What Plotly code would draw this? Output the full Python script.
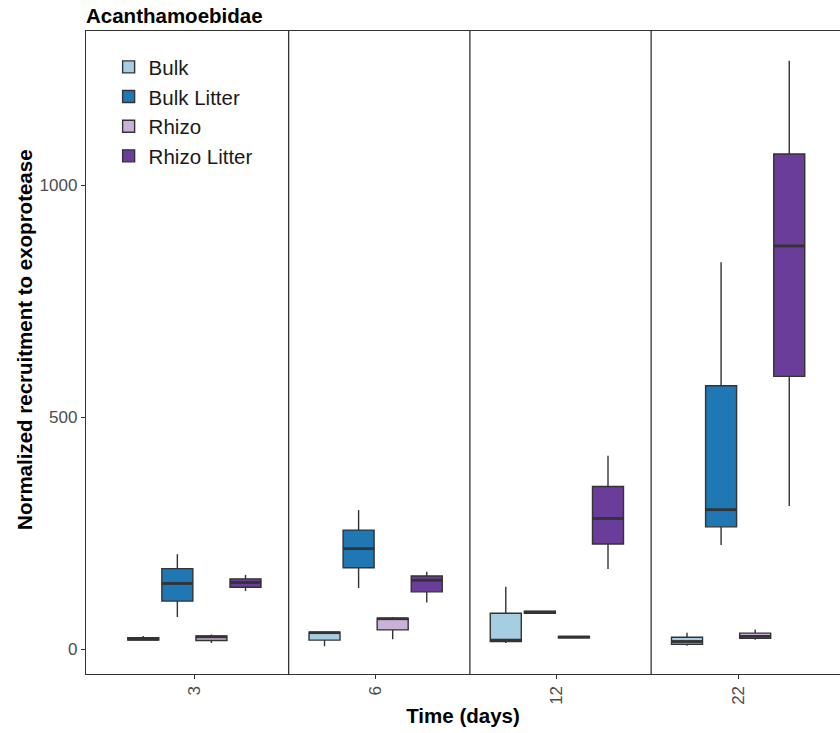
import plotly.graph_objects as go

times = ["3", "6", "12", "22"]
groups = ["Bulk", "Bulk Litter", "Rhizo", "Rhizo Litter"]
colors = ["#a6cee3", "#1f78b4", "#cab2d6", "#6a3d9a"]

# five-number summaries per group, one value per time point
lower = {
    "Bulk":         [19, 7, 14, 8],
    "Bulk Litter":  [70, 132, 77, 225],
    "Rhizo":        [14, 22, 24, 21],
    "Rhizo Litter": [126, 101, 173, 309],
}
q1 = {
    "Bulk":         [20, 20, 17, 11],
    "Bulk Litter":  [104, 176, 78, 264],
    "Rhizo":        [19, 42, 25, 24],
    "Rhizo Litter": [134, 124, 227, 588],
}
med = {
    "Bulk":         [22, 36, 20, 17],
    "Bulk Litter":  [142, 217, 80, 301],
    "Rhizo":        [27, 66, 26.5, 28],
    "Rhizo Litter": [144, 149, 282, 869],
}
q3 = {
    "Bulk":         [25, 37, 78, 26],
    "Bulk Litter":  [174, 257, 82, 568],
    "Rhizo":        [29, 67, 28, 35],
    "Rhizo Litter": [152, 158, 351, 1067],
}
upper = {
    "Bulk":         [29, 37, 135, 36],
    "Bulk Litter":  [205, 300, 83, 834],
    "Rhizo":        [32, 70, 29, 43],
    "Rhizo Litter": [160, 167, 417, 1268],
}

FONT = "Liberation Sans, Arial, sans-serif"
BOXGAP = 0.248
GROUPGAP = 0.09

fig = go.Figure()
for g, c in zip(groups, colors):
    fig.add_trace(go.Box(
        name=g, x=times,
        lowerfence=lower[g], q1=q1[g], median=med[g], q3=q3[g], upperfence=upper[g],
        fillcolor=c, line=dict(color="#333333", width=1.4),
        whiskerwidth=0, boxpoints=False,
    ))

# thicker median lines (ggplot style), positioned from the grouped-box layout
slot = (1 - BOXGAP) / len(groups)
half = slot * (1 - GROUPGAP) / 2
for k, g in enumerate(groups):
    off = (k - (len(groups) - 1) / 2) * slot
    for i, m in enumerate(med[g]):
        fig.add_shape(type="line", xref="x", yref="y",
                      x0=i + off - half, x1=i + off + half, y0=m, y1=m,
                      line=dict(color="#333333", width=2.8))

for i in range(len(times) - 1):
    fig.add_shape(type="line", xref="x", yref="paper", x0=i + 0.52, x1=i + 0.52,
                  y0=0, y1=1, line=dict(color="#333333", width=1.3))

fig.add_annotation(text="<b>Normalized recruitment to exoprotease</b>",
                   xref="paper", yref="paper", x=-0.081, y=0.521,
                   xanchor="center", yanchor="middle", textangle=-90,
                   showarrow=False,
                   font=dict(family=FONT, size=20.5, color="black"))

fig.update_layout(
    width=840, height=733,
    margin=dict(l=86, r=0, t=31, b=59),
    plot_bgcolor="white", paper_bgcolor="white",
    boxmode="group", boxgap=BOXGAP, boxgroupgap=GROUPGAP,
    title=dict(text="<b>Acanthamoebidae</b>", x=86 / 840, xanchor="left",
               y=1 - 16 / 733, yanchor="middle",
               font=dict(family=FONT, size=20.5, color="black")),
    legend=dict(x=0.03, y=0.975, xanchor="left", yanchor="top",
                font=dict(family=FONT, size=20.5, color="#1a1a1a"),
                bgcolor="rgba(0,0,0,0)"),
    font=dict(family=FONT),
)
fig.update_xaxes(
    range=[-0.598, 3.562], showline=True, linecolor="#333333", linewidth=1.3,
    mirror=True, showgrid=False, ticks="outside", ticklen=4, tickcolor="#333333",
    tickangle=-90, tickfont=dict(family=FONT, size=17, color="#4d4d4d"),
    title=dict(text="<b>Time (days)</b>", font=dict(family=FONT, size=20.5, color="black"),
               standoff=4),
)
fig.update_yaxes(
    range=[-53, 1332], showline=True, linecolor="#333333", linewidth=1.3,
    mirror=False, showgrid=False, zeroline=False, ticks="outside", ticklen=4,
    tickcolor="#333333", tickvals=[0, 500, 1000],
    tickfont=dict(family=FONT, size=17, color="#4d4d4d"),
)

fig.write_html("out.html")
